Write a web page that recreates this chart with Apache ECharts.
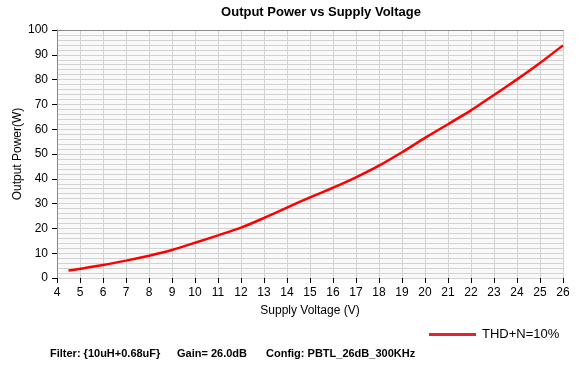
<!DOCTYPE html>
<html>
<head>
<meta charset="utf-8">
<script src="https://cdn.jsdelivr.net/npm/echarts@6/dist/echarts.min.js"></script>
<style>
html,body{margin:0;padding:0;background:#fff;}
#c{width:583px;height:373px;}
</style>
</head>
<body>
<div id="c"></div>
<script>
const supplyVoltage = [4.5, 5, 6, 7, 8, 9, 10, 11, 12, 13, 14, 15, 16, 17, 18, 19, 20, 21, 22, 23, 24, 25, 26];
const outputPower = [3.0, 3.7, 5.2, 7.0, 9.0, 11.3, 14.2, 17.2, 20.3, 24.2, 28.4, 32.5, 36.4, 40.6, 45.3, 50.7, 56.5, 62.0, 67.6, 73.8, 80.1, 86.7, 93.8];
const seriesName = 'THD+N=10%';
const titleText = 'Output Power vs Supply Voltage';
const xName = 'Supply Voltage (V)';
const yName = 'Output Power(W)';
const footerTexts = ['Filter: {10uH+0.68uF}', 'Gain= 26.0dB', 'Config: PBTL_26dB_300KHz'];

const chart = echarts.init(document.getElementById('c'), null, {renderer: 'canvas'});
const fam = 'Liberation Sans';
chart.setOption({
  animation: false,
  backgroundColor: '#ffffff',
  title: {
    text: titleText,
    left: 316, top: 1, textAlign: 'center',
    textStyle: {fontFamily: fam, fontWeight: 'bold', fontSize: 13, color: '#000'}
  },
  legend: {
    data: [seriesName],
    left: 424, top: 323,
    itemWidth: 47, itemHeight: 3, itemGap: 6,
    icon: 'rect',
    textStyle: {fontFamily: fam, fontSize: 13, color: '#000', padding: [0,0,0,1]}
  },
  grid: {
    left: 57, right: 20, top: 30, bottom: 95,
    show: true, backgroundColor: '#f9f9f9', borderWidth: 0
  },
  xAxis: [{
    type: 'value', min: 4, max: 26, interval: 1,
    name: xName, nameLocation: 'middle', nameGap: 27, nameMoveOverlap: false,
    nameTextStyle: {fontFamily: fam, fontSize: 12, color: '#000'},
    axisLine: {show: false},
    axisTick: {show: true, inside: false, length: 5, lineStyle: {color: '#000'}},
    axisLabel: {fontFamily: fam, fontSize: 12, color: '#000', margin: 9},
    splitLine: {show: true, lineStyle: {color: '#d2d2d2', width: 1}}
  }, {
    type: 'value', min: 4, max: 26, position: 'top',
    axisLine: {show: true, onZero: false, lineStyle: {color: '#8a8a8a', width: 1}},
    axisTick: {show: false}, axisLabel: {show: false}, splitLine: {show: false}
  }],
  yAxis: {
    type: 'value', min: 0, max: 100, interval: 10,
    name: yName, nameLocation: 'middle', nameGap: 33, nameRotate: 90, nameMoveOverlap: false,
    nameTextStyle: {fontFamily: fam, fontSize: 12, color: '#000'},
    axisLine: {show: true, lineStyle: {color: '#8a8a8a', width: 1}},
    axisTick: {show: true, inside: false, length: 5, lineStyle: {color: '#000'}},
    axisLabel: {fontFamily: fam, fontSize: 12, color: '#000', margin: 9},
    minorTick: {show: false, splitNumber: 5},
    splitLine: {show: true, lineStyle: {color: '#d2d2d2', width: 1}},
    minorSplitLine: {show: true, lineStyle: {color: '#d2d2d2', width: 1}}
  },
  series: [{
    name: seriesName,
    type: 'line',
    data: supplyVoltage.map((v, i) => [v, outputPower[i]]),
    showSymbol: false, symbol: 'none',
    smooth: 0.2,
    lineStyle: {color: '#ff0000', width: 2.5},
    itemStyle: {color: '#e8202a'}
  }],
  graphic: [
    {type: 'text', left: 50, top: 348, style: {text: footerTexts[0], font: 'bold 11px ' + fam, fill: '#000'}},
    {type: 'text', left: 177, top: 348, style: {text: footerTexts[1], font: 'bold 11px ' + fam, fill: '#000'}},
    {type: 'text', left: 266, top: 348, style: {text: footerTexts[2], font: 'bold 11px ' + fam, fill: '#000'}}
  ]
});
</script>
</body>
</html>
